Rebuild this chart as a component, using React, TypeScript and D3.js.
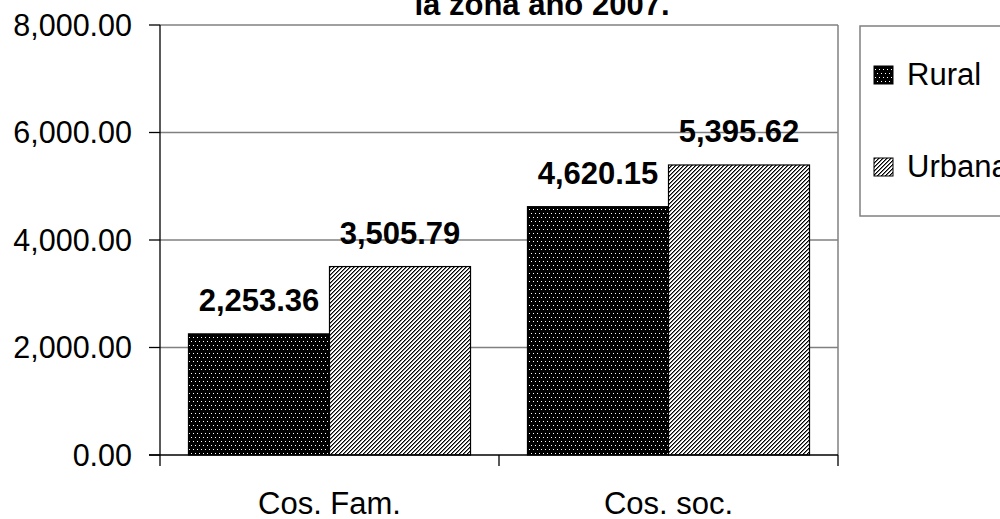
import React from "react";
import * as d3 from "d3";

const categories = ["Cos. Fam.", "Cos. soc."];
const seriesNames = ["Rural", "Urbana"];
const rural = [2253.36, 4620.15];
const urbana = [3505.79, 5395.62];
const yTicks = [0, 2000, 4000, 6000, 8000];
const titleText = "la zona año 2007.";

const W = 1000;
const H = 519;
const plot = { left: 160, right: 838, top: 25, bottom: 455 };
const FONT = "'Liberation Sans', Arial, sans-serif";

export default function App() {
  const y = d3.scaleLinear().domain([0, 8000]).range([plot.bottom, plot.top]);
  const x0 = d3
    .scaleBand<string>()
    .domain(categories)
    .range([plot.left, plot.right])
    .paddingInner(0)
    .paddingOuter(0);
  const x1 = d3
    .scaleBand<string>()
    .domain(seriesNames)
    .range([0, x0.bandwidth()])
    .paddingInner(0)
    .paddingOuter(0.202);
  const values: Record<string, number[]> = { Rural: rural, Urbana: urbana };
  const fills: Record<string, string> = { Rural: "url(#dots)", Urbana: "url(#stripes)" };
  const fmt = d3.format(",.2f");

  const stripePixels: [number, number][] = [];
  for (let i = 0; i < 4; i++)
    for (let j = 0; j < 4; j++) if ((i + j) % 4 === 0 || (i + j) % 4 === 1) stripePixels.push([i, j]);

  const dotPixels: [number, number][] = [
    [1, 1],
    [5, 1],
    [3, 5],
    [7, 5],
  ];

  const catTicks = [plot.left, ...categories.map((c) => (x0(c) as number) + x0.bandwidth())];

  return (
    <svg
      width={W}
      height={H}
      style={{ position: "absolute", left: 0, top: 0, background: "#fff" }}
      fontFamily={FONT}
    >
      <defs>
        <pattern id="dots" width={8} height={8} patternUnits="userSpaceOnUse">
          <rect width={8} height={8} fill="#000" />
          {dotPixels.map(([i, j], k) => (
            <rect key={k} x={i} y={j} width={1} height={1} fill="#fff" />
          ))}
        </pattern>
        <pattern id="stripes" width={4} height={4} patternUnits="userSpaceOnUse">
          <rect width={4} height={4} fill="#fff" />
          {stripePixels.map(([i, j], k) => (
            <rect key={k} x={i} y={j} width={1} height={1} fill={(i + j) % 4 === 0 ? "#000" : "#777"} />
          ))}
        </pattern>
      </defs>
      <rect width={W} height={H} fill="#fff" />

      {/* gridlines */}
      {yTicks.slice(1).map((t) => (
        <line
          key={t}
          x1={plot.left}
          x2={plot.right}
          y1={y(t)}
          y2={y(t)}
          stroke="#808080"
          strokeWidth={1.5}
        />
      ))}
      <line x1={plot.right} x2={plot.right} y1={plot.top} y2={plot.bottom} stroke="#808080" strokeWidth={1.5} />

      {/* bars */}
      {categories.map((c, ci) =>
        seriesNames.map((s) => {
          const v = values[s][ci];
          const bx = (x0(c) as number) + (x1(s) as number);
          return (
            <g key={c + s}>
              <rect
                x={bx}
                y={y(v)}
                width={x1.bandwidth()}
                height={y(0) - y(v)}
                fill={fills[s]}
                stroke="#000"
                strokeWidth={1.2}
              />
              <text
                x={bx + x1.bandwidth() / 2}
                y={y(v) - 23}
                textAnchor="middle"
                fontWeight="bold"
                fontSize={31}
                fill="#000"
              >
                {fmt(v)}
              </text>
            </g>
          );
        })
      )}

      {/* axes */}
      <line x1={plot.left} x2={plot.left} y1={plot.top} y2={plot.bottom} stroke="#000" strokeWidth={1.3} />
      <line x1={plot.left - 11} x2={plot.right} y1={plot.bottom} y2={plot.bottom} stroke="#000" strokeWidth={1.3} />
      {yTicks.map((t) => (
        <g key={t}>
          <line x1={plot.left - 11} x2={plot.left} y1={y(t)} y2={y(t)} stroke="#000" strokeWidth={1.3} />
          <text x={132} y={y(t)} dy="0.36em" textAnchor="end" fontSize={30.5} fill="#000">
            {fmt(t)}
          </text>
        </g>
      ))}
      {catTicks.map((tx, i) => (
        <line key={i} x1={tx} x2={tx} y1={plot.bottom} y2={plot.bottom + 11} stroke="#000" strokeWidth={1.3} />
      ))}
      {categories.map((c) => (
        <text
          key={c}
          x={(x0(c) as number) + x0.bandwidth() / 2}
          y={514}
          textAnchor="middle"
          fontSize={31}
          fill="#000"
        >
          {c}
        </text>
      ))}

      {/* title */}
      <text x={542} y={15} textAnchor="middle" fontWeight="bold" fontSize={31} fill="#000">
        {titleText}
      </text>

      {/* legend */}
      <rect x={860} y={26} width={160} height={190} fill="#fff" stroke="#808080" strokeWidth={1.5} />
      {seriesNames.map((s, i) => {
        const base = i === 0 ? 85 : 177;
        return (
          <g key={s}>
            <rect x={874} y={base - 19} width={19} height={18} fill={fills[s]} stroke="#000" strokeWidth={1} />
            <text x={907} y={base} fontSize={31} fill="#000">
              {s}
            </text>
          </g>
        );
      })}
    </svg>
  );
}
